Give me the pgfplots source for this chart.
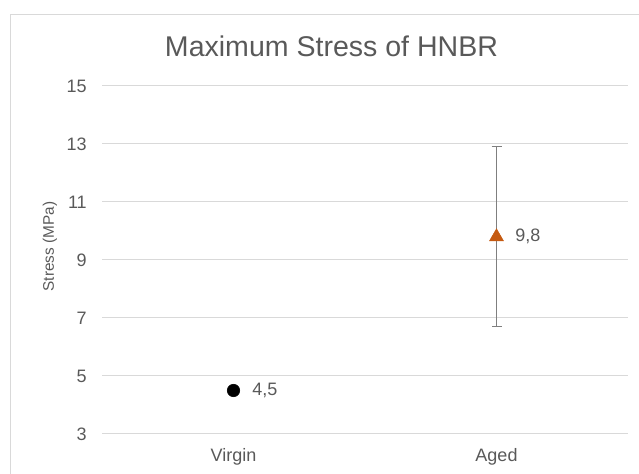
\documentclass[border=0pt]{standalone}
\usepackage{fontspec}
\setmainfont{Liberation Sans}
\usepackage{pgfplots}
\pgfplotsset{compat=1.18}

\definecolor{txt}{HTML}{595959}
\definecolor{grd}{HTML}{D9D9D9}
\definecolor{errc}{HTML}{7F7F7F}
\definecolor{agedc}{HTML}{C55A11}

\begin{document}
\begin{tikzpicture}
% 1 px of the reference = 0.75pt
\useasboundingbox (0,0) rectangle (479.25pt,355.5pt);
\draw[grd, line width=0.75pt] (7.5pt,-5pt) -- (7.5pt,344.25pt) -- (490pt,344.25pt);

\node[txt, font=\fontsize{21.4}{25}\selectfont] at (248.6pt,321pt) {Maximum Stress of HNBR};
\node[txt, rotate=90, font=\fontsize{11.5}{14}\selectfont] at (37.5pt,170.6pt) {Stress (MPa)};

\begin{axis}[
  at={(76.5pt,30pt)}, anchor=south west,
  scale only axis,
  width=394.5pt, height=261pt,
  xmin=-0.5, xmax=1.5,
  ymin=3, ymax=15,
  ytick={3,5,7,9,11,13,15},
  xtick={0,1},
  xticklabels={Virgin, Aged},
  axis line style={draw=none},
  tick style={draw=none},
  ymajorgrids,
  grid style={grd, line width=0.75pt},
  /pgf/number format/assume math mode=true,
  ticklabel style={txt, font=\fontsize{13.5}{16}\selectfont, inner sep=0pt},
  yticklabel style={xshift=-11.25pt},
  xticklabel style={yshift=-11pt},
  clip=false,
  point meta=explicit symbolic,
  nodes near coords,
  nodes near coords style={anchor=west, inner sep=0pt, xshift=14pt, txt,
    font=\fontsize{13.5}{16}\selectfont},
]
\addplot[only marks, mark=*, mark size=4.7pt, mark options={fill=black, draw=black}]
  table[x=x, y=y, meta=lab] {
x y lab
0 4.5 {4,5}
};
\addplot[only marks, mark=triangle*, mark size=6pt,
  mark options={fill=agedc, draw=agedc},
  error bars/.cd, y dir=both, y explicit,
  error bar style={errc, line width=0.75pt},
  error mark options={errc, rotate=90, mark size=3.75pt, line width=0.75pt}]
  table[x=x, y=y, y error=e, meta=lab] {
x y e lab
1 9.8 3.1 {9,8}
};
\end{axis}
\end{tikzpicture}
\end{document}
